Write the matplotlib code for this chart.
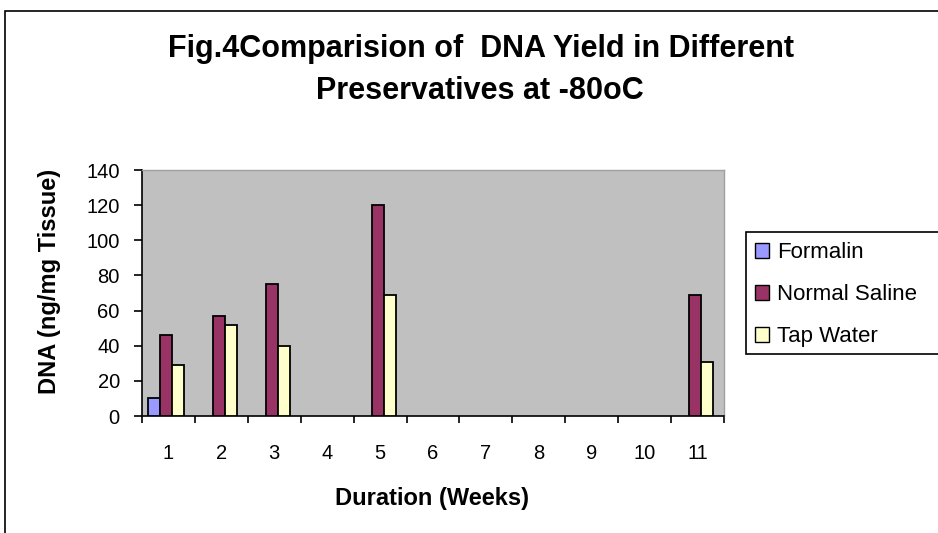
import matplotlib

matplotlib.use("Agg")
import matplotlib.pyplot as plt
import numpy as np
from matplotlib.patches import Patch, Rectangle

weeks = ["1", "2", "3", "4", "5", "6", "7", "8", "9", "10", "11"]
formalin = [10, 0, 0, 0, 0, 0, 0, 0, 0, 0, 0]
normal_saline = [46, 57, 75, 0, 120, 0, 0, 0, 0, 0, 69]
tap_water = [29, 52, 40, 0, 69, 0, 0, 0, 0, 0, 31]

series = [
    ("Formalin", formalin, "#9999FF"),
    ("Normal Saline", normal_saline, "#993366"),
    ("Tap Water", tap_water, "#FFFFCC"),
]

plt.rcParams["font.family"] = ["Liberation Sans", "DejaVu Sans"]

W, H = 938, 533
fig = plt.figure(figsize=(W / 100, H / 100), dpi=100)

# outer chart frame (cut off at right/bottom like the source image)
fig.patches.append(Rectangle((5 / W, -0.1), 1.2, 1 - 11 / H + 0.1, transform=fig.transFigure,
                             fill=False, edgecolor="black", linewidth=1.2))

ax = fig.add_axes([142 / W, 1 - 416 / H, 582 / W, 246 / H])
ax.set_facecolor("#C0C0C0")

x = np.arange(len(weeks))
bw = 0.225
for i, (name, vals, col) in enumerate(series):
    v = np.array(vals, dtype=float)
    mask = v > 0
    ax.bar(x[mask] + (i - 1) * bw - 0.04, v[mask], width=bw, color=col,
           edgecolor="black", linewidth=1.3, zorder=3)

ax.set_xlim(-0.5, len(weeks) - 0.5)
ax.set_ylim(0, 140)
ax.set_yticks(np.arange(0, 141, 20))

ax.set_xticks(x)
ax.set_xticklabels(weeks)
ax.set_xticks(np.arange(-0.5, len(weeks)), minor=True)
ax.tick_params(axis="x", which="major", length=0, pad=20, labelsize=14.5)
ax.tick_params(axis="x", which="minor", length=5, width=1.2, direction="out")
ax.tick_params(axis="y", length=6, width=1.2, direction="out", pad=10, labelsize=14.5)

for s in ["left", "bottom"]:
    ax.spines[s].set_color("black")
    ax.spines[s].set_linewidth(1.2)
for s in ["top", "right"]:
    ax.spines[s].set_color("#A0A0A0")
    ax.spines[s].set_linewidth(1.0)

fig.text(432 / W, 1 - 498 / H, "Duration (Weeks)", ha="center", va="center",
         fontsize=17, fontweight="bold")
fig.text(50 / W, 1 - 281 / H, "DNA (ng/mg Tissue)", ha="center", va="center",
         rotation=90, fontsize=17, fontweight="bold")

fig.text(481 / W, 1 - 49 / H, "Fig.4Comparision of  DNA Yield in Different",
         ha="center", va="center", fontsize=22, fontweight="bold")
fig.text(480 / W, 1 - 91 / H, "Preservatives at -80oC",
         ha="center", va="center", fontsize=22, fontweight="bold")

# legend box runs off the right edge in the source
fig.patches.append(Rectangle((746 / W, 1 - 354 / H), 0.3, 122 / H, transform=fig.transFigure,
                             facecolor="white", edgecolor="black", linewidth=1.2, zorder=1))
handles = [Patch(facecolor=c, edgecolor="black", linewidth=1.0, label=n) for n, _, c in series]
leg = fig.legend(handles=handles, loc="upper left", bbox_to_anchor=(755 / W, 1 - 242 / H),
                 frameon=False, fontsize=16, handlelength=0.65, handleheight=0.65,
                 handletextpad=0.35, labelspacing=0.95, borderpad=0, borderaxespad=0)

fig.savefig("out.png", dpi=100)
